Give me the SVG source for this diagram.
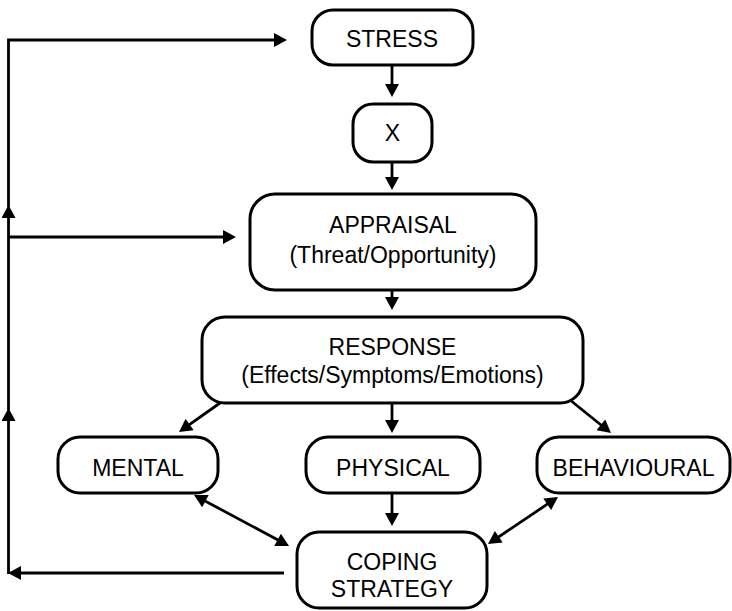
<svg xmlns="http://www.w3.org/2000/svg" width="732" height="611" viewBox="0 0 732 611">
<style>
.box{fill:#fff;stroke:#000;stroke-width:3}
.t{font-family:"Liberation Sans",Arial,sans-serif;font-size:23px;fill:#000;text-anchor:middle}
.c{fill:none;stroke:#000;stroke-width:2.8}
</style>
<defs>
<marker id="ah" markerUnits="userSpaceOnUse" markerWidth="14" markerHeight="14" refX="9" refY="7" orient="auto-start-reverse" viewBox="0 0 13 14">
<path d="M0,0 L13,7 L0,14 Z" fill="#000"/>
</marker>
</defs>
<rect width="732" height="611" fill="#fff"/>
<g id="connectors">
<path class="c" d="M392,65 V93" marker-end="url(#ah)"/>
<path class="c" d="M392,162 V186" marker-end="url(#ah)"/>
<path class="c" d="M392,290 V306" marker-end="url(#ah)"/>
<path class="c" d="M392,403 V429" marker-end="url(#ah)"/>
<path class="c" d="M392,493 V522" marker-end="url(#ah)"/>
<path class="c" d="M220,403 L182.3,429.7" marker-end="url(#ah)"/>
<path class="c" d="M570,400 L607.9,430.5" marker-end="url(#ah)"/>
<path class="c" d="M197.5,496.9 L285.5,544.1" marker-start="url(#ah)" marker-end="url(#ah)"/>
<path class="c" d="M554.7,499.2 L491.3,541.8" marker-start="url(#ah)" marker-end="url(#ah)"/>
<path class="c" d="M284,573 H12" marker-end="url(#ah)"/>
<path class="c" d="M8.5,574 V412" marker-end="url(#ah)"/>
<path class="c" d="M8.5,410 V209" marker-end="url(#ah)"/>
<path class="c" d="M8.5,207 V40 H283" marker-end="url(#ah)"/>
<path class="c" d="M8.5,237 H232" marker-end="url(#ah)"/>
</g>
<g id="stress">
<rect class="box" x="312" y="10" width="161" height="55" rx="21"/>
<text class="t" x="392" y="47">STRESS</text>
</g>
<g id="x">
<rect class="box" x="353" y="104" width="79" height="58" rx="20"/>
<text class="t" x="392.5" y="141">X</text>
</g>
<g id="appraisal">
<rect class="box" x="250" y="194" width="286" height="96" rx="25"/>
<text class="t" x="393" y="233">APPRAISAL</text>
<text class="t" x="393" y="263">(Threat/Opportunity)</text>
</g>
<g id="response">
<rect class="box" x="202" y="317" width="381" height="86" rx="23"/>
<text class="t" x="392.5" y="355">RESPONSE</text>
<text class="t" x="392.5" y="383">(Effects/Symptoms/Emotions)</text>
</g>
<g id="mental">
<rect class="box" x="58" y="437" width="160" height="56" rx="22"/>
<text class="t" x="138" y="476">MENTAL</text>
</g>
<g id="physical">
<rect class="box" x="306" y="437" width="174" height="56" rx="22"/>
<text class="t" x="393" y="476">PHYSICAL</text>
</g>
<g id="behavioural">
<rect class="box" x="537" y="437" width="193" height="56" rx="22"/>
<text class="t" x="633.5" y="476">BEHAVIOURAL</text>
</g>
<g id="coping">
<rect class="box" x="297" y="532" width="190" height="76" rx="22"/>
<text class="t" x="392" y="570">COPING</text>
<text class="t" x="392" y="597">STRATEGY</text>
</g>
</svg>
